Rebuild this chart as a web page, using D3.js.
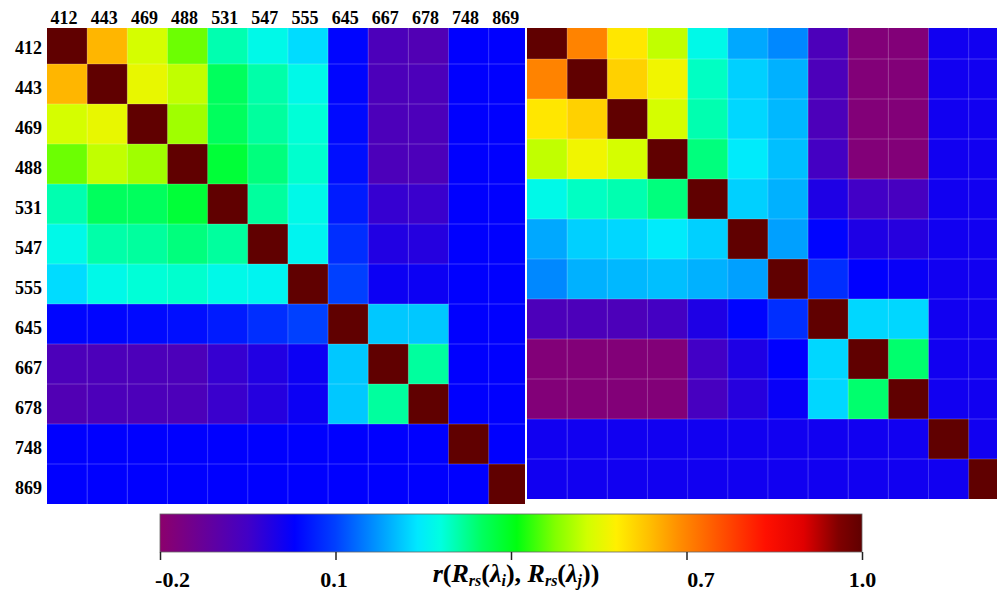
<!DOCTYPE html>
<html>
<head>
<meta charset="utf-8">
<script src="https://cdn.jsdelivr.net/npm/d3@7"></script>
<style>
  body { margin: 0; background: #fff; }
  svg { display: block; font-family: "Liberation Serif", "Times New Roman", serif; font-weight: bold; }
</style>
</head>
<body>
<div id="chart"></div>
<script>

// wavelengths (nm)
var bands = ["412", "443", "469", "488", "531", "547", "555", "645", "667", "678", "748", "869"];

// correlation matrix, left panel
var leftR = [
  [1,     0.645, 0.535, 0.465, 0.306, 0.27,  0.23,  0.035, -0.07, -0.08, 0.03, 0.03],
  [0.645, 1,     0.555, 0.52,  0.352, 0.31,  0.27,  0.035, -0.07, -0.07, 0.03, 0.03],
  [0.535, 0.555, 1,     0.497, 0.352, 0.316, 0.285, 0.04,  -0.07, -0.07, 0.03, 0.03],
  [0.465, 0.52,  0.497, 1,     0.38,  0.334, 0.29,  0.045, -0.07, -0.07, 0.03, 0.03],
  [0.306, 0.352, 0.352, 0.38,  1,     0.316, 0.27,  0.06,  -0.035, -0.04, 0.03, 0.03],
  [0.27,  0.31,  0.316, 0.334, 0.316, 1,     0.26,  0.08,  -0.01, -0.015, 0.03, 0.03],
  [0.23,  0.27,  0.285, 0.29,  0.27,  0.26,  1,     0.1,   0.015, 0.015, 0.03, 0.03],
  [0.035, 0.035, 0.04,  0.045, 0.06,  0.08,  0.1,   1,     0.213, 0.213, 0.03, 0.03],
  [-0.07, -0.07, -0.07, -0.07, -0.035, -0.01, 0.015, 0.213, 1,    0.316, 0.03, 0.03],
  [-0.08, -0.07, -0.07, -0.07, -0.04, -0.015, 0.015, 0.213, 0.316, 1,    0.03, 0.03],
  [0.03,  0.03,  0.03,  0.03,  0.03,  0.03,  0.03,  0.03,  0.03,  0.03,  1,    0.03],
  [0.03,  0.03,  0.03,  0.03,  0.03,  0.03,  0.03,  0.03,  0.03,  0.03,  0.03, 1]
];

// correlation matrix, right panel
var rightR = [
  [1,     0.70,  0.59,  0.52,  0.27,  0.187, 0.16,  -0.07, -0.18, -0.18, 0.01, 0.01],
  [0.70,  1,     0.615, 0.565, 0.296, 0.22,  0.194, -0.07, -0.18, -0.18, 0.01, 0.01],
  [0.59,  0.615, 1,     0.535, 0.306, 0.226, 0.2,   -0.07, -0.18, -0.18, 0.01, 0.01],
  [0.52,  0.565, 0.535, 1,     0.334, 0.245, 0.206, -0.055, -0.18, -0.18, 0.01, 0.01],
  [0.27,  0.296, 0.306, 0.334, 1,     0.22,  0.194, -0.006, -0.05, -0.06, 0.01, 0.01],
  [0.187, 0.22,  0.226, 0.245, 0.22,  1,     0.18,  0.034, -0.006, -0.016, 0.01, 0.01],
  [0.16,  0.194, 0.2,   0.206, 0.194, 0.18,  1,     0.08,  0.03,  0.02,  0.01, 0.01],
  [-0.07, -0.07, -0.07, -0.055, -0.006, 0.034, 0.08, 1,     0.226, 0.226, 0.01, 0.01],
  [-0.18, -0.18, -0.18, -0.18, -0.05, -0.006, 0.03, 0.226, 1,     0.343, 0.01, 0.01],
  [-0.18, -0.18, -0.18, -0.18, -0.06, -0.016, 0.02, 0.226, 0.343, 1,     0.01, 0.01],
  [0.01,  0.01,  0.01,  0.01,  0.01,  0.01,  0.01,  0.01,  0.01,  0.01,  1,    0.01],
  [0.01,  0.01,  0.01,  0.01,  0.01,  0.01,  0.01,  0.01,  0.01,  0.01,  0.01, 1]
];

// colour bar
var cbarTicks = [-0.2, 0.1, 0.4, 0.7, 1.0];
var cbarLabels = ["-0.2", "0.1", "", "0.7", "1.0"];
var cmapStops  = [-0.2, -0.05, 0.03, 0.1, 0.18, 0.24, 0.28, 0.35, 0.41, 0.475, 0.53, 0.58, 0.635, 0.685, 0.76, 0.835, 0.9, 0.96, 1.0];
var cmapColors = ["#8c006c", "#4200c6", "#0000ff", "#0040ff", "#00a0ff", "#00e8ff", "#00ffe0", "#00ff60", "#00ff10",
                  "#80ff00", "#d0ff00", "#fff000", "#ffc000", "#ff9000", "#ff5000", "#ff1000", "#e00000", "#800000", "#600000"];

var W = 997, H = 594;

var svg = d3.select("#chart")
  .append("svg")
    .attr("width", W)
    .attr("height", H);

var color = d3.scaleLinear()
  .domain(cmapStops)
  .range(cmapColors)
  .clamp(true);

var defs = svg.append("defs");

function heatmap(id, matrix, x0, y0, clip) {
  var x = d3.scaleBand().domain(bands).range([x0, x0 + 12 * 40.15]);
  var y = d3.scaleBand().domain(bands).range([y0, y0 + 12 * 40]);

  defs.append("clipPath").attr("id", id)
    .append("rect")
      .attr("x", clip[0]).attr("y", clip[1])
      .attr("width", clip[2] - clip[0]).attr("height", clip[3] - clip[1]);

  var g = svg.append("g").attr("clip-path", "url(#" + id + ")");

  var cells = [];
  matrix.forEach(function(row, i) {
    row.forEach(function(v, j) { cells.push({row: bands[i], col: bands[j], v: v}); });
  });

  g.selectAll("rect.cell")
    .data(cells)
    .enter()
    .append("rect")
      .attr("class", "cell")
      .attr("x", function(d) { return x(d.col); })
      .attr("y", function(d) { return y(d.row); })
      .attr("width", x.bandwidth() + 0.5)
      .attr("height", y.bandwidth() + 0.5)
      .style("fill", function(d) { return color(d.v); });

  // faint grid between cells
  g.selectAll("line.v")
    .data(bands.slice(1))
    .enter()
    .append("line")
      .attr("x1", function(d) { return x(d); })
      .attr("x2", function(d) { return x(d); })
      .attr("y1", y0).attr("y2", y0 + 12 * 40)
      .attr("stroke", "#ffffff").attr("stroke-opacity", 0.22).attr("stroke-width", 1);
  g.selectAll("line.h")
    .data(bands.slice(1))
    .enter()
    .append("line")
      .attr("y1", function(d) { return y(d); })
      .attr("y2", function(d) { return y(d); })
      .attr("x1", x0).attr("x2", x0 + 12 * 40.15)
      .attr("stroke", "#ffffff").attr("stroke-opacity", 0.22).attr("stroke-width", 1);

  return {x: x, y: y};
}

var left = heatmap("clipL", leftR, 47, 24, [47, 28, 525, 504]);
heatmap("clipR", rightR, 527, 19, [527, 28, 997, 499]);

// column labels (top of left panel)
svg.selectAll("text.colLab")
  .data(bands)
  .enter()
  .append("text")
    .attr("x", function(d) { return left.x(d) + left.x.bandwidth() / 2 - 3; })
    .attr("y", 24)
    .attr("text-anchor", "middle")
    .style("font-size", "18px")
    .text(function(d) { return d; });

// row labels
svg.selectAll("text.rowLab")
  .data(bands)
  .enter()
  .append("text")
    .attr("x", 42)
    .attr("y", function(d) { return left.y(d) + left.y.bandwidth() / 2 + 10; })
    .attr("text-anchor", "end")
    .style("font-size", "18px")
    .text(function(d) { return d; });

// colour bar
var cb = {x0: 160, x1: 862, y0: 514, y1: 552};
var cx = d3.scaleLinear().domain([-0.2, 1.0]).range([cb.x0, cb.x1]);

var grad = defs.append("linearGradient").attr("id", "cbGrad")
  .attr("x1", "0%").attr("x2", "100%").attr("y1", "0%").attr("y2", "0%");
grad.selectAll("stop")
  .data(cmapStops)
  .enter()
  .append("stop")
    .attr("offset", function(d) { return ((d + 0.2) / 1.2 * 100) + "%"; })
    .attr("stop-color", function(d, i) { return cmapColors[i]; });

svg.append("rect")
  .attr("x", cb.x0).attr("y", cb.y0)
  .attr("width", cb.x1 - cb.x0).attr("height", cb.y1 - cb.y0)
  .style("fill", "url(#cbGrad)")
  .attr("stroke", "#666").attr("stroke-width", 0.8);

var labelShift = [12, -2, 0, 14, 0];

var cAxis = svg.append("g")
  .attr("transform", "translate(0," + cb.y1 + ")")
  .call(d3.axisBottom(cx)
    .tickValues(cbarTicks)
    .tickSize(8)
    .tickPadding(11)
    .tickFormat(function(d, i) { return cbarLabels[i]; }));
cAxis.select(".domain").remove();
cAxis.selectAll(".tick line").attr("stroke", "#222").attr("stroke-width", 1.5);
cAxis.selectAll(".tick text")
  .attr("dx", function(d, i) { return labelShift[i]; })
  .style("font-family", "Liberation Serif, serif")
  .style("font-weight", "bold")
  .style("font-size", "22px")
  .attr("fill", "#000");

// colour bar title  r(Rrs(λi), Rrs(λj))
var parts = [["r", 0], ["(", 0], ["R", 0], ["rs", 1], ["(", 0], ["\u03bb", 0], ["i", 1], ["), ", 0],
             ["R", 0], ["rs", 1], ["(", 0], ["\u03bb", 0], ["j", 1], ["))", 0]];
var title = svg.append("text")
  .attr("x", 516)
  .attr("y", 582)
  .attr("text-anchor", "middle")
  .style("font-size", "26px")
  .style("font-style", "italic");
var prev = 0;
parts.forEach(function(p) {
  title.append("tspan")
    .attr("dy", (p[1] - prev) * 4)
    .style("font-size", p[1] ? "16px" : "26px")
    .style("font-style", (p[0].indexOf("(") >= 0 || p[0].indexOf(")") >= 0) ? "normal" : "italic")
    .text(p[0]);
  prev = p[1];
});

</script>
</body>
</html>
